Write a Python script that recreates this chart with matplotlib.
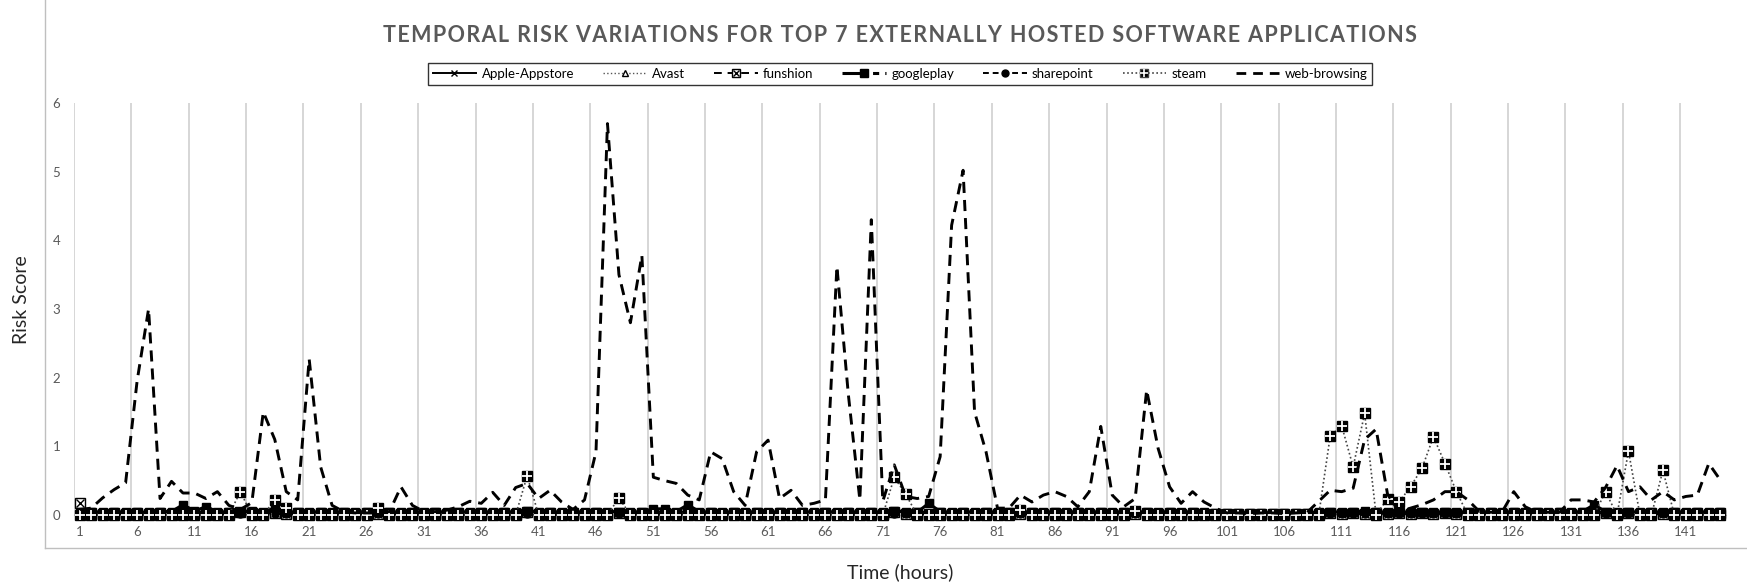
import matplotlib
matplotlib.use('Agg')
import matplotlib.pyplot as plt
from matplotlib.lines import Line2D

hours = list(range(1, 145))
tick_hours = list(range(1, 145, 5))

web_browsing = [
    0.08, 0.10, 0.25, 0.37, 0.47, 1.95, 3.00, 0.24, 0.49, 0.32, 0.32, 0.24,
    0.34, 0.14, 0.08, 0.18, 1.50, 1.10, 0.34, 0.22, 2.27, 0.70, 0.14, 0.05,
    0.03, 0.03, 0.03, 0.05, 0.41, 0.14, 0.05, 0.05, 0.07, 0.12, 0.20, 0.17,
    0.33, 0.14, 0.40, 0.46, 0.24, 0.36, 0.19, 0.08, 0.22, 0.92, 5.70, 3.50,
    2.80, 3.78, 0.55, 0.50, 0.46, 0.29, 0.22, 0.92, 0.82, 0.34, 0.14, 0.92,
    1.09, 0.24, 0.36, 0.14, 0.17, 0.22, 3.62, 1.75, 0.22, 4.30, 0.20, 0.73,
    0.27, 0.24, 0.27, 0.85, 4.22, 5.02, 1.50, 0.92, 0.10, 0.10, 0.29, 0.19,
    0.29, 0.34, 0.27, 0.12, 0.34, 1.29, 0.29, 0.12, 0.24, 1.82, 0.97, 0.41,
    0.17, 0.34, 0.19, 0.10, 0.03, 0.03, 0.02, 0.03, 0.03, 0.02, 0.03, 0.04,
    0.20, 0.36, 0.34, 0.39, 1.10, 1.25, 0.30, 0.05, 0.10, 0.15, 0.22, 0.34,
    0.34, 0.22, 0.05, 0.04, 0.05, 0.34, 0.12, 0.04, 0.04, 0.04, 0.22, 0.22,
    0.19, 0.40, 0.72, 0.34, 0.41, 0.22, 0.34, 0.22, 0.27, 0.29, 0.75, 0.51,
]

steam = [
    0, 0, 0, 0, 0, 0, 0, 0, 0, 0, 0, 0,
    0, 0, 0.34, 0, 0, 0.22, 0.10, 0, 0, 0, 0, 0,
    0, 0, 0.10, 0, 0, 0, 0, 0, 0, 0, 0, 0,
    0, 0, 0, 0.57, 0, 0, 0, 0, 0, 0, 0, 0.25,
    0, 0, 0, 0, 0, 0, 0, 0, 0, 0, 0, 0,
    0, 0, 0, 0, 0, 0, 0, 0, 0, 0, 0, 0.55,
    0.30, 0, 0, 0, 0, 0, 0, 0, 0, 0, 0.08, 0,
    0, 0, 0, 0, 0, 0, 0, 0, 0.06, 0, 0, 0,
    0, 0, 0, 0, 0, 0, 0, 0, 0, 0, 0, 0,
    0, 1.15, 1.30, 0.70, 1.48, 0, 0.24, 0.19, 0.41, 0.68, 1.14, 0.75,
    0.34, 0, 0, 0, 0, 0, 0, 0, 0, 0, 0, 0,
    0, 0.34, 0, 0.93, 0, 0, 0.65, 0, 0, 0, 0, 0,
]

googleplay = [
    0.05, 0.04, 0.05, 0.04, 0.05, 0.04, 0.04, 0.05, 0.05, 0.15, 0.06, 0.12,
    0.05, 0.04, 0.05, 0.06, 0.05, 0.10, 0.05, 0.04, 0.05, 0.04, 0.04, 0.05,
    0.04, 0.05, 0.04, 0.05, 0.04, 0.04, 0.05, 0.04, 0.05, 0.04, 0.05, 0.04,
    0.05, 0.04, 0.05, 0.06, 0.05, 0.04, 0.05, 0.04, 0.05, 0.04, 0.05, 0.05,
    0.04, 0.05, 0.09, 0.09, 0.05, 0.15, 0.05, 0.04, 0.05, 0.04, 0.05, 0.04,
    0.05, 0.04, 0.05, 0.04, 0.05, 0.04, 0.05, 0.04, 0.05, 0.04, 0.05, 0.06,
    0.05, 0.04, 0.17, 0.05, 0.04, 0.05, 0.04, 0.05, 0.04, 0.05, 0.04, 0.05,
    0.04, 0.05, 0.04, 0.05, 0.04, 0.05, 0.04, 0.05, 0.04, 0.05, 0.04, 0.05,
    0.04, 0.05, 0.04, 0.03, 0.03, 0.03, 0.03, 0.03, 0.03, 0.03, 0.03, 0.03,
    0.04, 0.05, 0.04, 0.05, 0.06, 0.05, 0.04, 0.05, 0.04, 0.05, 0.04, 0.05,
    0.04, 0.05, 0.04, 0.05, 0.04, 0.05, 0.04, 0.05, 0.04, 0.05, 0.04, 0.05,
    0.15, 0.05, 0.04, 0.05, 0.04, 0.05, 0.04, 0.05, 0.04, 0.05, 0.04, 0.05,
]

funshion = [
    0.18, 0.03, 0.02, 0.03, 0.02, 0.03, 0.02, 0.03, 0.02, 0.03, 0.02, 0.03,
    0.02, 0.03, 0.05, 0.03, 0.02, 0.03, 0.02, 0.03, 0.02, 0.03, 0.02, 0.03,
    0.02, 0.03, 0.02, 0.03, 0.02, 0.03, 0.02, 0.03, 0.02, 0.03, 0.02, 0.03,
    0.02, 0.03, 0.02, 0.05, 0.02, 0.03, 0.02, 0.03, 0.02, 0.03, 0.02, 0.03,
    0.02, 0.03, 0.02, 0.03, 0.02, 0.03, 0.02, 0.03, 0.02, 0.03, 0.02, 0.03,
    0.02, 0.03, 0.02, 0.03, 0.02, 0.03, 0.02, 0.03, 0.02, 0.03, 0.02, 0.05,
    0.02, 0.03, 0.02, 0.03, 0.02, 0.03, 0.02, 0.03, 0.02, 0.03, 0.02, 0.03,
    0.02, 0.03, 0.02, 0.03, 0.02, 0.03, 0.02, 0.03, 0.02, 0.03, 0.02, 0.03,
    0.02, 0.03, 0.02, 0.02, 0.02, 0.02, 0.02, 0.02, 0.02, 0.02, 0.02, 0.02,
    0.02, 0.03, 0.02, 0.03, 0.02, 0.03, 0.02, 0.03, 0.02, 0.03, 0.02, 0.03,
    0.02, 0.03, 0.02, 0.03, 0.02, 0.03, 0.02, 0.03, 0.02, 0.03, 0.02, 0.03,
    0.02, 0.03, 0.02, 0.03, 0.02, 0.03, 0.02, 0.03, 0.02, 0.03, 0.02, 0.03,
]

apple_appstore = [
    0.04, 0.05, 0.04, 0.05, 0.04, 0.05, 0.04, 0.05, 0.04, 0.05, 0.04, 0.05,
    0.04, 0.05, 0.04, 0.05, 0.04, 0.05, 0.04, 0.05, 0.04, 0.05, 0.04, 0.05,
    0.04, 0.05, 0.04, 0.05, 0.04, 0.05, 0.04, 0.05, 0.04, 0.05, 0.04, 0.05,
    0.04, 0.05, 0.04, 0.05, 0.04, 0.05, 0.04, 0.05, 0.04, 0.05, 0.04, 0.05,
    0.04, 0.05, 0.04, 0.05, 0.04, 0.05, 0.04, 0.05, 0.04, 0.05, 0.04, 0.05,
    0.04, 0.05, 0.04, 0.05, 0.04, 0.05, 0.04, 0.05, 0.04, 0.05, 0.04, 0.05,
    0.04, 0.05, 0.04, 0.05, 0.04, 0.05, 0.04, 0.05, 0.04, 0.05, 0.04, 0.05,
    0.04, 0.05, 0.04, 0.05, 0.04, 0.05, 0.04, 0.05, 0.04, 0.05, 0.04, 0.05,
    0.04, 0.05, 0.04, 0.04, 0.04, 0.04, 0.04, 0.04, 0.04, 0.04, 0.04, 0.04,
    0.04, 0.05, 0.04, 0.05, 0.04, 0.05, 0.04, 0.05, 0.04, 0.05, 0.04, 0.05,
    0.04, 0.05, 0.04, 0.05, 0.04, 0.05, 0.04, 0.05, 0.04, 0.05, 0.04, 0.05,
    0.04, 0.05, 0.04, 0.05, 0.04, 0.05, 0.04, 0.05, 0.04, 0.05, 0.04, 0.05,
]

avast = [0.01] * 144
sharepoint = [0.02] * 144

title = 'TEMPORAL RISK VARIATIONS FOR TOP 7 EXTERNALLY HOSTED SOFTWARE APPLICATIONS'

plt.rcParams['font.family'] = ['Lato', 'DejaVu Sans']

fig = plt.figure(figsize=(17.47, 5.86), dpi=100)
ax = fig.add_axes([74 / 1747, 1 - 515 / 586, 1652 / 1747, 412 / 586])

ms = 7.5
ax.plot(hours, apple_appstore, color='black', lw=1.4, marker='x', ms=4, mew=1,
        clip_on=False, zorder=3)
ax.plot(hours, avast, color='#555555', lw=1, ls=':', marker='^', ms=4,
        mfc='white', mec='black', clip_on=False, zorder=3)
ax.plot(hours, funshion, color='black', lw=1.4, ls=(0, (4, 3)), marker='s', ms=ms,
        mfc='white', mec='black', clip_on=False, zorder=3)
ax.plot(hours, funshion, ls='none', marker='x', ms=ms * 0.8, mec='black', mew=1,
        clip_on=False, zorder=3)
ax.plot(hours, googleplay, color='black', lw=2.2, marker='s', ms=6,
        clip_on=False, zorder=4)
ax.plot(hours, sharepoint, color='black', lw=1.4, ls=(0, (4, 2, 1, 2)), marker='o',
        ms=5, clip_on=False, zorder=4)
ax.plot(hours, steam, color='#444444', lw=1.2, ls=(0, (1, 1.5)), marker='s', ms=ms,
        mfc='black', mec='black', clip_on=False, zorder=5)
ax.plot(hours, steam, ls='none', marker='+', ms=ms, mec='white', mew=1.3,
        clip_on=False, zorder=5)
ax.plot(hours, web_browsing, color='black', lw=2.1, ls=(0, (3.8, 2.4)),
        clip_on=False, zorder=6)

ax.set_xlim(0.5, 144.5)
ax.set_ylim(0, 6)
ax.set_xticks(tick_hours)
ax.set_xticklabels([str(h) for h in tick_hours])
ax.set_xticks([h + 0.5 for h in range(0, 144, 5)], minor=True)
ax.grid(True, which='minor', axis='x', color='#d0d0d0', lw=1.2)
ax.set_yticks(range(7))
ax.tick_params(axis='both', which='both', length=0, labelsize=9.5, colors='#595959')
ax.tick_params(axis='x', pad=8)
ax.tick_params(axis='y', pad=10)
for side in ['top', 'right', 'left']:
    ax.spines[side].set_visible(False)
ax.spines['bottom'].set_color('#d0d0d0')

handles = [
    Line2D([], [], color='black', lw=1.4, marker='x', ms=4),
    Line2D([], [], color='#555555', lw=1, ls=':', marker='^', ms=4, mfc='white', mec='black'),
    (Line2D([], [], color='black', lw=1.4, ls=(0, (4, 3)), marker='s', ms=6, mfc='white', mec='black'),
     Line2D([], [], ls='none', marker='x', ms=5, mec='black')),
    Line2D([], [], color='black', lw=2.2, ls=(0, (8, 2, 2, 2)), marker='s', ms=6),
    Line2D([], [], color='black', lw=1.4, ls=(0, (3, 2)), marker='o', ms=5),
    (Line2D([], [], color='#444444', lw=1.2, ls=(0, (1, 1.5)), marker='s', ms=6, mfc='black'),
     Line2D([], [], ls='none', marker='+', ms=6, mec='white', mew=1.2)),
    Line2D([], [], color='black', lw=2.0, ls=(0, (3.5, 2.5))),
]
labels = ['Apple-Appstore', 'Avast', 'funshion', 'googleplay', 'sharepoint', 'steam', 'web-browsing']
leg = fig.legend(handles, labels, loc='center', bbox_to_anchor=(900 / 1747, 1 - 74 / 586),
                 ncol=7, fontsize=9.5, frameon=True, fancybox=False, edgecolor='black',
                 handlelength=3.3, columnspacing=2.2, handletextpad=0.4,
                 borderpad=0.35)
leg.get_frame().set_linewidth(1.0)

# letter spaced title, hair spaces between the characters
fig.text(900 / 1747, 1 - 36 / 586, '\u200a'.join(title),
         ha='center', va='center', fontsize=15.5, fontweight='bold', color='#595959')
fig.text(22 / 1747, 1 - 300 / 586, 'Risk Score', rotation=90, ha='center', va='center',
         fontsize=14, color='#262626')
fig.text(900 / 1747, 1 - 572 / 586, 'Time (hours)', ha='center', va='center',
         fontsize=14, color='#262626')

fig.add_artist(Line2D([45 / 1747, 45 / 1747], [1 - 548 / 586, 1], color='#bfbfbf', lw=1,
                      transform=fig.transFigure))
fig.add_artist(Line2D([45 / 1747, 1], [1 - 548 / 586, 1 - 548 / 586], color='#bfbfbf', lw=1,
                      transform=fig.transFigure))

fig.savefig('out.png', dpi=100)
